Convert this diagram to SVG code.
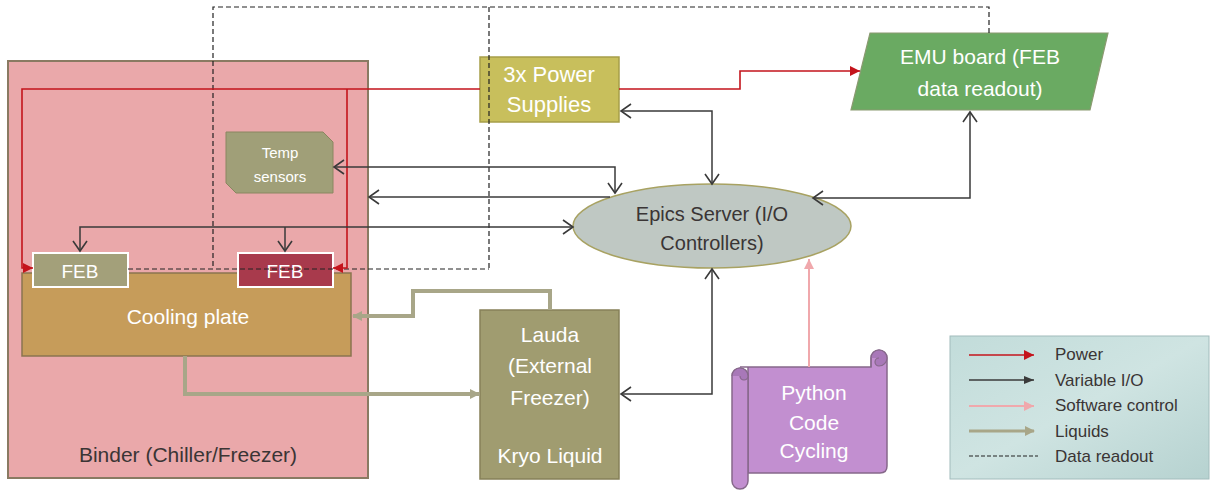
<svg xmlns="http://www.w3.org/2000/svg" width="1210" height="493" viewBox="0 0 1210 493">
<defs>
<style>
text{font-family:"Liberation Sans",Arial,sans-serif;text-anchor:middle}
.w{fill:#ffffff}
.d{fill:#3a3535}
.pw{fill:none;stroke:#c4141c;stroke-width:1.6}
.io{fill:none;stroke:#3a3a3a;stroke-width:1.5}
.sw{fill:none;stroke:#f0a8ac;stroke-width:2}
.lq{fill:none;stroke:#a8a688;stroke-width:4}
.dr{fill:none;stroke:#222;stroke-width:1.2;stroke-dasharray:5,3}
</style>
<marker id="mPw" markerUnits="userSpaceOnUse" markerWidth="12" markerHeight="10" refX="10" refY="5" orient="auto"><path d="M0,0 L10,5 L0,10 Z" fill="#c4141c"/></marker>
<marker id="mIo" markerUnits="userSpaceOnUse" markerWidth="14" markerHeight="16" refX="11" refY="8" orient="auto-start-reverse"><path d="M1,1 L11,8 L1,15" fill="none" stroke="#3a3a3a" stroke-width="1.6"/></marker>
<marker id="mIoF" markerUnits="userSpaceOnUse" markerWidth="12" markerHeight="10" refX="10" refY="5" orient="auto"><path d="M0,1 L10,5 L0,9 Z" fill="#3a3a3a"/></marker>
<marker id="mSw" markerUnits="userSpaceOnUse" markerWidth="12" markerHeight="10" refX="10" refY="5" orient="auto"><path d="M0,0 L10,5 L0,10 Z" fill="#f0a8ac"/></marker>
<marker id="mLq" markerUnits="userSpaceOnUse" markerWidth="12" markerHeight="10" refX="9" refY="5" orient="auto"><path d="M0,0 L10,5 L0,10 Z" fill="#a8a688"/></marker>
<linearGradient id="lg" x1="0" y1="0" x2="1" y2="1"><stop offset="0" stop-color="#c2dcda"/><stop offset="0.5" stop-color="#cfe4e2"/><stop offset="1" stop-color="#b6d2d0"/></linearGradient>
</defs>

<g id="binder">
<rect x="8" y="61" width="360" height="417" fill="#eaa8aa" stroke="#8a7a62" stroke-width="2"/>
<text x="188" y="462" font-size="21" class="d">Binder (Chiller/Freezer)</text>
</g>

<g id="cooling-plate">
<rect x="22" y="273" width="329" height="83" fill="#c69c5a" stroke="#8a7450" stroke-width="1.5"/>
<text x="188" y="324" font-size="21" class="w">Cooling plate</text>
</g>

<g id="feb1">
<rect x="33" y="253" width="95" height="34" fill="#a3a07a" stroke="#ffffff" stroke-width="2"/>
<text x="80" y="278" font-size="19" class="w">FEB</text>
</g>

<g id="feb2">
<rect x="238" y="253" width="95" height="34" fill="#a83a4c" stroke="#ffffff" stroke-width="2"/>
<text x="285" y="278" font-size="19" class="w">FEB</text>
</g>

<g id="temp-sensors">
<path d="M226,132 H323 L333,142 V193 H236 L226,183 Z" fill="#a09f78" stroke="#8a8660" stroke-width="1"/>
<text x="280" y="158" font-size="15" class="w">Temp</text>
<text x="280" y="182" font-size="15" class="w">sensors</text>
</g>

<g id="power-supplies">
<rect x="480" y="57" width="139" height="65" fill="#c8bf5c" stroke="#a69e48" stroke-width="1.5"/>
<text x="549" y="82" font-size="22" class="w">3x Power</text>
<text x="549" y="112" font-size="22" class="w">Supplies</text>
</g>

<g id="emu-board">
<path d="M870,33 H1108 L1090,110 H851 Z" fill="#6aaa62" stroke="#8a9a70" stroke-width="1.2"/>
<text x="980" y="64" font-size="21" class="w">EMU board (FEB</text>
<text x="980" y="96" font-size="21" class="w">data readout)</text>
</g>

<g id="epics-server">
<ellipse cx="712" cy="226" rx="139" ry="42" fill="#bfc8c3" stroke="#a8a262" stroke-width="1.5"/>
<text x="712" y="221" font-size="20" class="d">Epics Server (I/O</text>
<text x="712" y="250" font-size="20" class="d">Controllers)</text>
</g>

<g id="lauda">
<rect x="480" y="310" width="139" height="169" fill="#a09c70" stroke="#868058" stroke-width="1.5"/>
<text x="550" y="342" font-size="21" class="w">Lauda</text>
<text x="550" y="373" font-size="21" class="w">(External</text>
<text x="550" y="405" font-size="21" class="w">Freezer)</text>
<text x="550" y="463" font-size="21" class="w">Kryo Liquid</text>
</g>

<g id="python-code">
<path d="M740,367 H871 V358 A8,8 0 0 1 887,358 V466 Q887,473 880,473 H748 V367 Z" fill="#c28fd0" stroke="#86688a" stroke-width="1.5"/>
<path d="M871,358 A8,8 0 0 1 887,358 A8,8 0 0 1 879,366 A4,4 0 0 1 879,358" fill="#a878b8" stroke="#86688a" stroke-width="1.2"/>
<path d="M871,358 V367" fill="none" stroke="#86688a" stroke-width="1.2"/>
<path d="M732,376 A8,8 0 0 1 748,376 V481 A8,8 0 0 1 732,481 Z" fill="#c28fd0" stroke="#86688a" stroke-width="1.5"/>
<path d="M732,376 A8,8 0 0 1 748,376 A4,4 0 0 1 740,376" fill="#a878b8" stroke="#86688a" stroke-width="1.2"/>
<text x="814" y="400" font-size="21" class="w">Python</text>
<text x="814" y="430" font-size="21" class="w">Code</text>
<text x="814" y="458" font-size="21" class="w">Cycling</text>
</g>

<g id="connectors">
<path class="dr" d="M989,33 V7 H213 V269"/>
<path class="dr" d="M489,7 V269"/>
<path class="dr" d="M128,269 H489"/>
<path class="pw" d="M480,89 H22 V268 H33" marker-end="url(#mPw)"/>
<path class="pw" d="M347,89 V268 H333" marker-end="url(#mPw)"/>
<path class="pw" d="M619,89 H740 V71 H860" marker-end="url(#mPw)"/>
<path class="io" d="M334,167 H615 V193" marker-start="url(#mIo)" marker-end="url(#mIo)"/>
<path class="io" d="M610,197 H369" marker-end="url(#mIo)"/>
<path class="io" d="M80,251 V227 H573" marker-start="url(#mIo)" marker-end="url(#mIo)"/>
<path class="io" d="M285,227 V251" marker-end="url(#mIo)"/>
<path class="io" d="M621,111 H712 V184" marker-start="url(#mIo)" marker-end="url(#mIo)"/>
<path class="io" d="M970,112 V198 H813" marker-start="url(#mIo)" marker-end="url(#mIo)"/>
<path class="io" d="M712,269 V394 H621" marker-start="url(#mIo)" marker-end="url(#mIo)"/>
<path class="sw" d="M809,367 V259" marker-end="url(#mSw)"/>
<path class="lq" d="M550,310 V291 H413 V316 H353" marker-end="url(#mLq)"/>
<path class="lq" d="M185,356 V394 H479" marker-end="url(#mLq)"/>
</g>

<g id="legend">
<rect x="950" y="336" width="259" height="143" fill="url(#lg)" stroke="#a2bcbc" stroke-width="1"/>
<path class="pw" d="M969,355 H1034" marker-end="url(#mPw)"/>
<path class="io" d="M969,380 H1034" marker-end="url(#mIoF)"/>
<path class="sw" d="M969,406 H1034" marker-end="url(#mSw)"/>
<path class="lq" d="M969,431 H1034" style="stroke-width:3" marker-end="url(#mLq)"/>
<path d="M969,456 H1038" fill="none" stroke="#222" stroke-width="1.2" stroke-dasharray="4,2"/>
<text x="1055" y="360" font-size="17" class="d" style="text-anchor:start">Power</text>
<text x="1055" y="386" font-size="17" class="d" style="text-anchor:start">Variable I/O</text>
<text x="1055" y="411" font-size="17" class="d" style="text-anchor:start">Software control</text>
<text x="1055" y="437" font-size="17" class="d" style="text-anchor:start">Liquids</text>
<text x="1055" y="462" font-size="17" class="d" style="text-anchor:start">Data readout</text>
</g>
</svg>
